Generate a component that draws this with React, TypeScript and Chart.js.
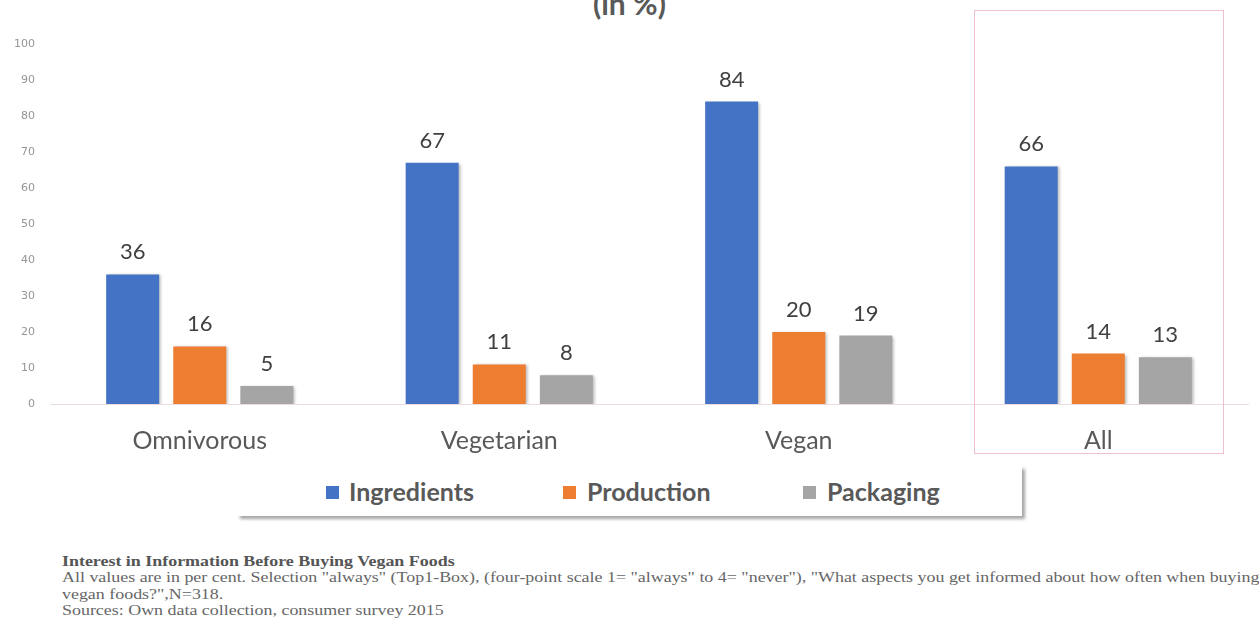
import React, { useEffect, useRef } from "react";
import { Chart, registerables } from "chart.js";

Chart.register(...registerables);

const categories = ["Omnivorous", "Vegetarian", "Vegan", "All"];
const ingredients = [36, 67, 84, 66];
const production = [16, 11, 20, 14];
const packaging = [5, 8, 19, 13];
const seriesNames = ["Ingredients", "Production", "Packaging"];
const seriesColors = ["#4472C4", "#ED7D31", "#A5A5A5"];
const yTicksMax = 100;
const yTickStep = 10;
const highlightCategory = "All";

const noteTitle = "Interest in Information Before Buying Vegan Foods";
const noteLine1 =
  'All values are in per cent. Selection "always" (Top1-Box), (four-point scale 1= "always" to 4= "never"), "What aspects you get informed about how often when buying';
const noteLine2 = 'vegan foods?",N=318.';
const noteLine3 = "Sources: Own data collection, consumer survey 2015";

const labelPlugin = {
  id: "labelsAndShadow",
  beforeDatasetsDraw(chart: any) {
    const ctx = chart.ctx;
    ctx.save();
    ctx.shadowColor = "rgba(0,0,0,0.28)";
    ctx.shadowBlur = 3;
    ctx.shadowOffsetX = 2;
    ctx.shadowOffsetY = 1;
  },
  afterDatasetsDraw(chart: any) {
    const ctx = chart.ctx;
    ctx.restore();
    ctx.save();
    ctx.font = "22px Lato";
    ctx.fillStyle = "#404040";
    ctx.textAlign = "center";
    ctx.textBaseline = "alphabetic";
    chart.data.datasets.forEach((ds: any, i: number) => {
      const meta = chart.getDatasetMeta(i);
      meta.data.forEach((el: any, j: number) => {
        ctx.fillText(String(ds.data[j]), el.x, el.y - 15);
      });
    });
    ctx.restore();
  },
  afterDraw(chart: any) {
    const ctx = chart.ctx;
    const xs = chart.scales.x;
    const idx = categories.indexOf(highlightCategory);
    const cx = xs.getPixelForValue(idx);
    const half = (xs.getPixelForValue(1) - xs.getPixelForValue(0)) * 0.415;
    ctx.save();
    ctx.strokeStyle = "#efbfd0";
    ctx.lineWidth = 1;
    ctx.strokeRect(Math.round(cx - half) + 0.5, 10.5, Math.round(half * 2), 443);
    ctx.restore();
  },
};

export default function App() {
  const ref = useRef<HTMLCanvasElement | null>(null);

  useEffect(() => {
    if (!ref.current) return;
    document.body.style.margin = "0";
    const data = [ingredients, production, packaging];
    const chart = new Chart(ref.current, {
      type: "bar",
      data: {
        labels: categories,
        datasets: data.map((d, i) => ({
          label: seriesNames[i],
          data: d,
          backgroundColor: seriesColors[i],
          borderWidth: 0,
          categoryPercentage: 0.672,
          barPercentage: 0.79,
        })),
      },
      options: {
        animation: false,
        responsive: false,
        maintainAspectRatio: false,
        layout: { padding: { left: 0, right: 11, top: 44, bottom: 0 } },
        plugins: {
          legend: { display: false },
          tooltip: { enabled: false },
          title: { display: false },
        },
        scales: {
          x: {
            grid: { display: false, drawTicks: false },
            border: { display: true, color: "#eadede", width: 1 },
            ticks: {
              font: { family: "Lato", size: 25 },
              color: "#595959",
              padding: 22,
            },
            afterFit: (s: any) => {
              s.height = 56;
            },
          },
          y: {
            min: 0,
            max: yTicksMax,
            grid: { display: false, drawTicks: false },
            border: { display: false },
            ticks: {
              stepSize: yTickStep,
              font: { family: "DejaVu Sans", size: 11 },
              color: "#959595",
              padding: 15,
            },
            afterFit: (s: any) => {
              s.width = 50;
            },
          },
        },
      },
      plugins: [labelPlugin],
    });
    return () => chart.destroy();
  }, []);

  const legendItems = [
    { sq: 89, tx: 112 },
    { sq: 326, tx: 350 },
    { sq: 566, tx: 590 },
  ];

  return (
    <div
      style={{
        position: "absolute",
        left: 0,
        top: 0,
        width: 1259,
        height: 635,
        overflow: "hidden",
        background: "#ffffff",
      }}
    >
      <div
        style={{
          position: "absolute",
          left: 593,
          top: -12,
          font: "bold 30px Lato",
          lineHeight: "30px",
          color: "#595959",
          whiteSpace: "nowrap",
        }}
      >
        (in %)
      </div>
      <canvas
        ref={ref}
        width={1259}
        height={460}
        style={{ position: "absolute", left: 0, top: 0, width: 1259, height: 460 }}
      />
      <div
        style={{
          position: "absolute",
          left: 237,
          top: 466,
          width: 785,
          height: 50,
          background: "#fff",
          boxShadow: "3px 3px 3px rgba(0,0,0,0.35)",
        }}
      >
        {seriesNames.map((n, i) => (
          <React.Fragment key={n}>
            <div
              style={{
                position: "absolute",
                left: legendItems[i].sq,
                top: 20,
                width: 13,
                height: 13,
                background: seriesColors[i],
              }}
            />
            <div
              style={{
                position: "absolute",
                left: legendItems[i].tx,
                top: 10,
                font: "bold 25px Lato",
                lineHeight: "30px",
                color: "#595959",
                whiteSpace: "nowrap",
              }}
            >
              {n}
            </div>
          </React.Fragment>
        ))}
      </div>
      <div
        style={{
          position: "absolute",
          left: 62,
          top: 554,
          fontFamily: "'Liberation Serif', serif",
          fontSize: 14,
          lineHeight: "16.3px",
          color: "#666",
          whiteSpace: "nowrap",
          transform: "scaleX(1.28)",
          transformOrigin: "0 0",
        }}
      >
        <div style={{ fontWeight: "bold", color: "#555" }}>{noteTitle}</div>
        <div>{noteLine1}</div>
        <div>{noteLine2}</div>
        <div>{noteLine3}</div>
      </div>
    </div>
  );
}
